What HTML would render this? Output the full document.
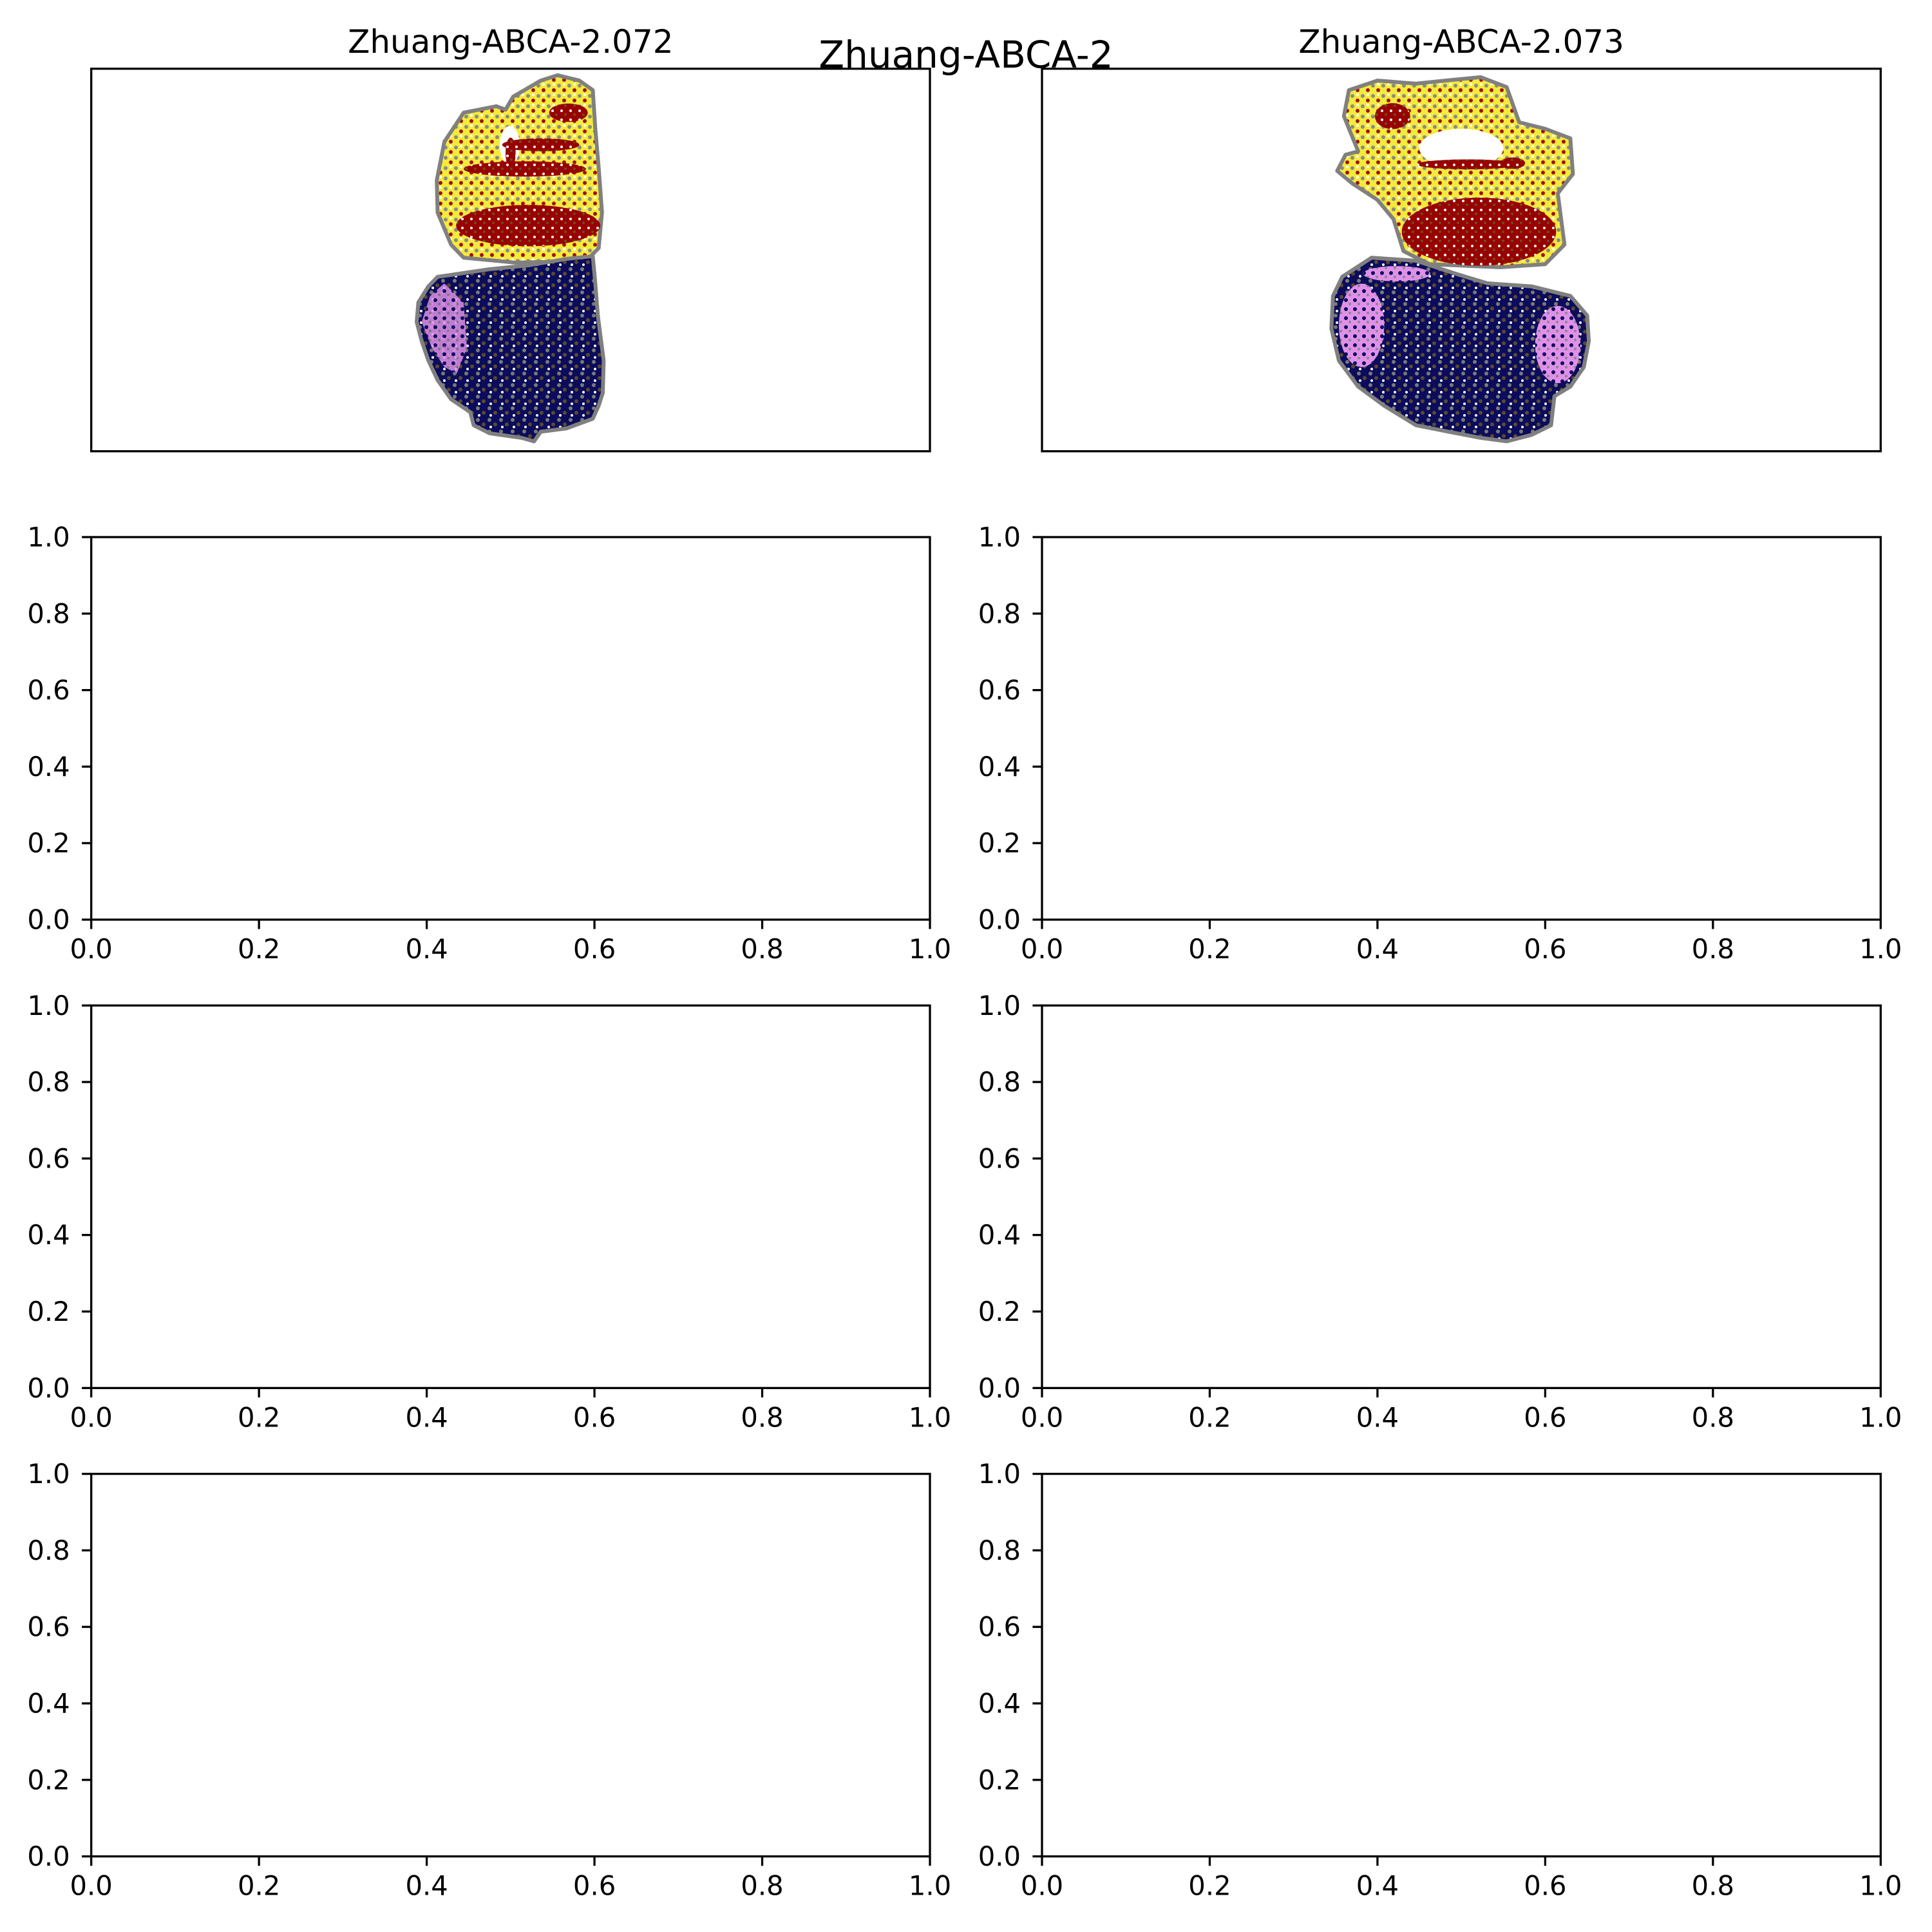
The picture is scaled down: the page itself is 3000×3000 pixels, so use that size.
<!DOCTYPE html>
<html><head><meta charset="utf-8"><style>
html,body{margin:0;padding:0;background:#fff;}
svg{display:block;font-family:"DejaVu Sans","Liberation Sans",sans-serif;}
</style></head><body>
<svg id="fig" xmlns="http://www.w3.org/2000/svg" width="3000" height="3000" viewBox="0 0 3000 3000">
<defs>
<pattern id="speckleNavy" width="18" height="18" patternUnits="userSpaceOnUse">
<rect width="18" height="18" fill="#0c0c5c"/>
<circle cx="4" cy="4" r="3" fill="#7a7a72"/><circle cx="13" cy="11" r="3" fill="#5c4a2c"/><circle cx="6" cy="15" r="2" fill="#fff"/>
</pattern>
<pattern id="speckleYellow" width="16" height="16" patternUnits="userSpaceOnUse">
<rect width="16" height="16" fill="#f4ea3c"/>
<circle cx="4" cy="5" r="3" fill="#8a8a80"/><circle cx="12" cy="12" r="3" fill="#a01010"/><circle cx="12" cy="3" r="2" fill="#fff"/>
</pattern>
<pattern id="speckleRed" width="14" height="14" patternUnits="userSpaceOnUse">
<rect width="14" height="14" fill="#990000"/>
<circle cx="4" cy="4" r="2" fill="#fff"/><circle cx="10" cy="10" r="2" fill="#6a5020"/>
</pattern>
<pattern id="specklePink" width="14" height="14" patternUnits="userSpaceOnUse">
<rect width="14" height="14" fill="#e090e8"/>
<circle cx="4" cy="4" r="3" fill="#0c0c5c"/><circle cx="10" cy="10" r="2" fill="#888"/>
</pattern>
</defs>
<text x="1500" y="105" font-size="58" text-anchor="middle">Zhuang-ABCA-2</text>
</svg>
<script>
// ---- layout ----
const colX = [141.7, 1618];
const rowY = [106.7, 834, 1561.3, 2288.6];
const axW = 1302.3, axH = 594;
const titles = ['Zhuang-ABCA-2.072', 'Zhuang-ABCA-2.073'];
const tickVals = [0, 0.2, 0.4, 0.6, 0.8, 1.0];
const tickLabels = ['0.0', '0.2', '0.4', '0.6', '0.8', '1.0'];

// ---- scatter region data (normalized section coords, v up) ----
const leftUpperOutline = [[0.413,0.624],[0.412,0.708],[0.421,0.809],[0.444,0.885],[0.483,0.902],[0.494,0.893],[0.503,0.927],[0.536,0.969],[0.556,0.983],[0.582,0.969],[0.598,0.944],[0.601,0.843],[0.605,0.742],[0.609,0.624],[0.605,0.531],[0.590,0.498],[0.506,0.493],[0.444,0.506],[0.429,0.540]];
const leftLowerOutline = [[0.429,0.461],[0.475,0.476],[0.521,0.486],[0.567,0.503],[0.598,0.510],[0.601,0.439],[0.604,0.355],[0.611,0.237],[0.610,0.153],[0.605,0.119],[0.598,0.085],[0.567,0.060],[0.536,0.051],[0.528,0.026],[0.513,0.035],[0.475,0.047],[0.456,0.068],[0.452,0.102],[0.429,0.136],[0.413,0.186],[0.402,0.237],[0.394,0.288],[0.388,0.338],[0.390,0.389],[0.402,0.431],[0.413,0.456]];
const leftPinkOutline = [[0.404,0.406],[0.421,0.439],[0.444,0.389],[0.448,0.271],[0.436,0.204],[0.421,0.220],[0.406,0.271],[0.394,0.338]];
// ellipses: [cx, cy, rx, ry]
const leftRedBlobs = [[0.521,0.590,0.086,0.054],[0.517,0.738,0.073,0.020],[0.536,0.801,0.046,0.017],[0.569,0.885,0.023,0.024],[0.500,0.780,0.006,0.040]];
const leftWhiteGaps = [[0.499,0.800,0.012,0.050]];

const rightUpperOutline = [[0.352,0.733],[0.362,0.775],[0.377,0.784],[0.360,0.876],[0.366,0.944],[0.400,0.969],[0.446,0.961],[0.481,0.969],[0.523,0.978],[0.554,0.952],[0.569,0.860],[0.600,0.843],[0.630,0.818],[0.633,0.725],[0.615,0.674],[0.623,0.540],[0.600,0.489],[0.546,0.481],[0.462,0.489],[0.431,0.523],[0.419,0.607],[0.400,0.657],[0.370,0.700]];
const rightLowerOutline = [[0.358,0.456],[0.393,0.506],[0.446,0.498],[0.492,0.465],[0.531,0.439],[0.584,0.431],[0.630,0.406],[0.650,0.355],[0.652,0.288],[0.646,0.220],[0.630,0.169],[0.611,0.144],[0.607,0.068],[0.584,0.043],[0.554,0.026],[0.523,0.035],[0.485,0.051],[0.446,0.068],[0.408,0.119],[0.377,0.169],[0.354,0.237],[0.345,0.321],[0.347,0.406]];
const rightPinkBlobs = [[0.381,0.329,0.027,0.109],[0.615,0.279,0.027,0.101],[0.423,0.464,0.040,0.020]];
const rightRedBlobs = [[0.521,0.574,0.092,0.089],[0.508,0.750,0.061,0.013],[0.418,0.876,0.021,0.034],[0.561,0.753,0.015,0.015]];
const rightWhiteGaps = [[0.500,0.792,0.050,0.051]];

const NS = 'http://www.w3.org/2000/svg';
const svg = document.getElementById('fig');
function mk(tag, attrs, parent) {
  const e = document.createElementNS(NS, tag);
  for (const k in attrs) e.setAttribute(k, attrs[k]);
  (parent || svg).appendChild(e);
  return e;
}
function xScale(c, v) { return colX[c] + v * axW; }
function yScale(r, v) { return rowY[r] + (1 - v) * axH; }

function drawPoly(g, c, pts, fill, name) {
  const d = pts.map(p => xScale(c, p[0]).toFixed(1) + ',' + yScale(0, p[1]).toFixed(1)).join(' ');
  const e = mk('polygon', {points: d, fill: fill, stroke: '#808080', 'stroke-width': 6, 'stroke-linejoin': 'round'}, g);
  
  
}
function drawEllipses(g, c, list, fill, name) {
  list.forEach(b => {
    const e = mk('ellipse', {cx: xScale(c, b[0]), cy: yScale(0, b[1]), rx: b[2] * axW, ry: b[3] * axH, fill: fill}, g);
    
    
  });
}

// ---- top row scatter panels ----
for (let c = 0; c < 2; c++) {
  const g = mk('g', {});
  
  
  if (c === 0) {
    drawPoly(g, 0, leftUpperOutline, 'url(#speckleYellow)', 'upper-region-cells');
    drawEllipses(g, 0, leftWhiteGaps, '#fff', 'gap');
    drawEllipses(g, 0, leftRedBlobs, 'url(#speckleRed)', 'red-cell-cluster');
    drawPoly(g, 0, leftLowerOutline, 'url(#speckleNavy)', 'lower-region-cells');
    const p = mk('polygon', {points: leftPinkOutline.map(p => xScale(0, p[0]) + ',' + yScale(0, p[1])).join(' '), fill: 'url(#specklePink)', opacity: 0.85}, g);
    
    
  } else {
    drawPoly(g, 1, rightUpperOutline, 'url(#speckleYellow)', 'upper-region-cells');
    drawEllipses(g, 1, rightWhiteGaps, '#fff', 'gap');
    drawEllipses(g, 1, rightRedBlobs, 'url(#speckleRed)', 'red-cell-cluster');
    drawPoly(g, 1, rightLowerOutline, 'url(#speckleNavy)', 'lower-region-cells');
    drawEllipses(g, 1, rightPinkBlobs, 'url(#specklePink)', 'pink-cell-cluster');
  }
  const t = mk('text', {x: colX[c] + axW / 2, y: 82, 'font-size': 50, 'text-anchor': 'middle'});
  t.textContent = titles[c];
  
  
}

// ---- axes frames and ticks ----
for (let r = 0; r < 4; r++) {
  for (let c = 0; c < 2; c++) {
    const g = mk('g', {});
    
    
    const fr = mk('rect', {x: colX[c], y: rowY[r], width: axW, height: axH, fill: 'none', stroke: '#000', 'stroke-width': 3.3}, g);
    
    
    if (r === 0) continue;
    tickVals.forEach((v, i) => {
      const x = xScale(c, v), yb = rowY[r] + axH;
      const tl = mk('line', {x1: x, y1: yb, x2: x, y2: yb + 14.6, stroke: '#000', 'stroke-width': 3.3}, g);
      
      
      const tx = mk('text', {x: x, y: yb + 60, 'font-size': 41.7, 'text-anchor': 'middle'}, g);
      tx.textContent = tickLabels[i];
      
      
      const y = yScale(r, v);
      const yl = mk('line', {x1: colX[c] - 14.6, y1: y, x2: colX[c], y2: y, stroke: '#000', 'stroke-width': 3.3}, g);
      
      
      const ty = mk('text', {x: colX[c] - 33, y: y + 14.5, 'font-size': 41.7, 'text-anchor': 'end'}, g);
      ty.textContent = tickLabels[i];
      
      
    });
  }
}
</script>
</body></html>
